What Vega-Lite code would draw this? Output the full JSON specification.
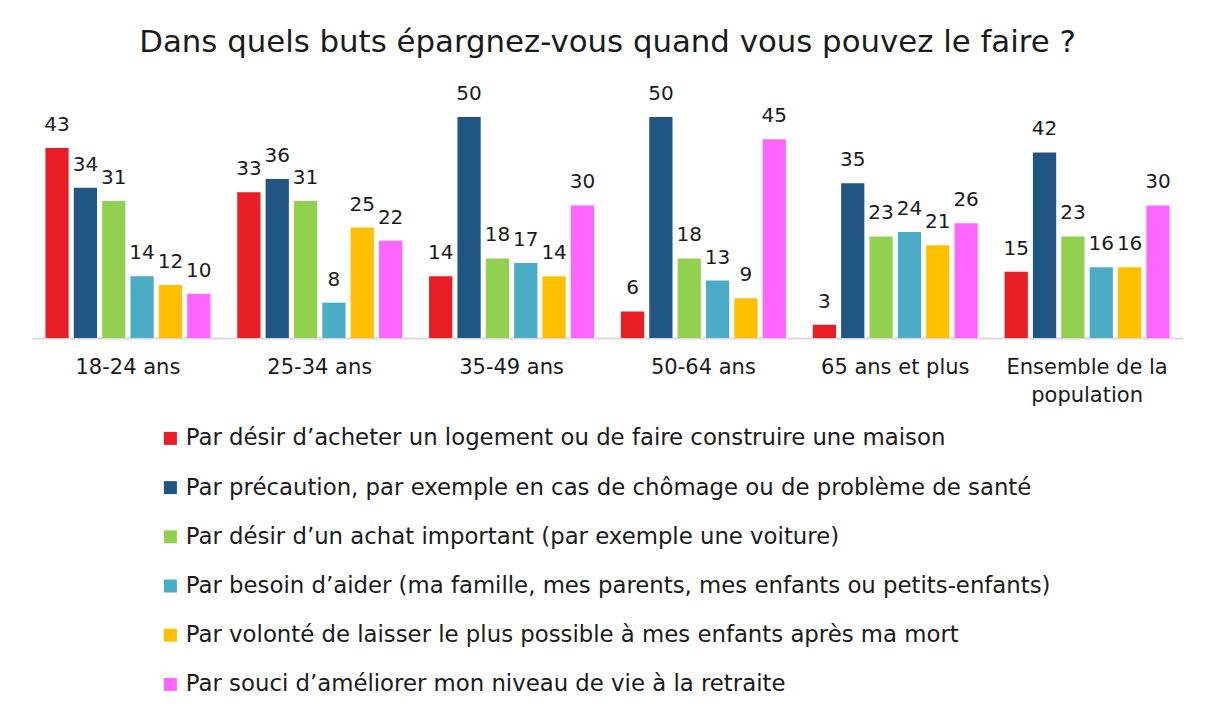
{
  "$schema": "https://vega.github.io/schema/vega-lite/v6.json",
  "width": 1151,
  "height": 243,
  "autosize": "none",
  "padding": {"left": 32, "top": 95, "right": 27, "bottom": 384},
  "background": "white",
  "title": {
    "text": "Dans quels buts épargnez-vous quand vous pouvez le faire ?",
    "font": "DejaVu Sans",
    "fontSize": 30.8,
    "fontWeight": "normal",
    "color": "#1a1a1a",
    "anchor": "middle",
    "frame": "group",
    "offset": 25
  },
  "config": {
    "view": {"stroke": null},
    "font": "DejaVu Sans"
  },
  "data": {
    "values": [
      {"age": "18-24 ans", "but": "Par désir d’acheter un logement ou de faire construire une maison", "v": 43},
      {"age": "18-24 ans", "but": "Par précaution, par exemple en cas de chômage ou de problème de santé", "v": 34},
      {"age": "18-24 ans", "but": "Par désir d’un achat important (par exemple une voiture)", "v": 31},
      {"age": "18-24 ans", "but": "Par besoin d’aider (ma famille, mes parents, mes enfants ou petits-enfants)", "v": 14},
      {"age": "18-24 ans", "but": "Par volonté de laisser le plus possible à mes enfants après ma mort", "v": 12},
      {"age": "18-24 ans", "but": "Par souci d’améliorer mon niveau de vie à la retraite", "v": 10},
      {"age": "25-34 ans", "but": "Par désir d’acheter un logement ou de faire construire une maison", "v": 33},
      {"age": "25-34 ans", "but": "Par précaution, par exemple en cas de chômage ou de problème de santé", "v": 36},
      {"age": "25-34 ans", "but": "Par désir d’un achat important (par exemple une voiture)", "v": 31},
      {"age": "25-34 ans", "but": "Par besoin d’aider (ma famille, mes parents, mes enfants ou petits-enfants)", "v": 8},
      {"age": "25-34 ans", "but": "Par volonté de laisser le plus possible à mes enfants après ma mort", "v": 25},
      {"age": "25-34 ans", "but": "Par souci d’améliorer mon niveau de vie à la retraite", "v": 22},
      {"age": "35-49 ans", "but": "Par désir d’acheter un logement ou de faire construire une maison", "v": 14},
      {"age": "35-49 ans", "but": "Par précaution, par exemple en cas de chômage ou de problème de santé", "v": 50},
      {"age": "35-49 ans", "but": "Par désir d’un achat important (par exemple une voiture)", "v": 18},
      {"age": "35-49 ans", "but": "Par besoin d’aider (ma famille, mes parents, mes enfants ou petits-enfants)", "v": 17},
      {"age": "35-49 ans", "but": "Par volonté de laisser le plus possible à mes enfants après ma mort", "v": 14},
      {"age": "35-49 ans", "but": "Par souci d’améliorer mon niveau de vie à la retraite", "v": 30},
      {"age": "50-64 ans", "but": "Par désir d’acheter un logement ou de faire construire une maison", "v": 6},
      {"age": "50-64 ans", "but": "Par précaution, par exemple en cas de chômage ou de problème de santé", "v": 50},
      {"age": "50-64 ans", "but": "Par désir d’un achat important (par exemple une voiture)", "v": 18},
      {"age": "50-64 ans", "but": "Par besoin d’aider (ma famille, mes parents, mes enfants ou petits-enfants)", "v": 13},
      {"age": "50-64 ans", "but": "Par volonté de laisser le plus possible à mes enfants après ma mort", "v": 9},
      {"age": "50-64 ans", "but": "Par souci d’améliorer mon niveau de vie à la retraite", "v": 45},
      {"age": "65 ans et plus", "but": "Par désir d’acheter un logement ou de faire construire une maison", "v": 3},
      {"age": "65 ans et plus", "but": "Par précaution, par exemple en cas de chômage ou de problème de santé", "v": 35},
      {"age": "65 ans et plus", "but": "Par désir d’un achat important (par exemple une voiture)", "v": 23},
      {"age": "65 ans et plus", "but": "Par besoin d’aider (ma famille, mes parents, mes enfants ou petits-enfants)", "v": 24},
      {"age": "65 ans et plus", "but": "Par volonté de laisser le plus possible à mes enfants après ma mort", "v": 21},
      {"age": "65 ans et plus", "but": "Par souci d’améliorer mon niveau de vie à la retraite", "v": 26},
      {"age": "Ensemble de la population", "but": "Par désir d’acheter un logement ou de faire construire une maison", "v": 15},
      {"age": "Ensemble de la population", "but": "Par précaution, par exemple en cas de chômage ou de problème de santé", "v": 42},
      {"age": "Ensemble de la population", "but": "Par désir d’un achat important (par exemple une voiture)", "v": 23},
      {"age": "Ensemble de la population", "but": "Par besoin d’aider (ma famille, mes parents, mes enfants ou petits-enfants)", "v": 16},
      {"age": "Ensemble de la population", "but": "Par volonté de laisser le plus possible à mes enfants après ma mort", "v": 16},
      {"age": "Ensemble de la population", "but": "Par souci d’améliorer mon niveau de vie à la retraite", "v": 30}
    ]
  },
  "encoding": {
    "x": {
      "field": "age",
      "type": "nominal",
      "sort": null,
      "scale": {"paddingInner": 0.14, "paddingOuter": 0.07},
      "axis": {
        "title": null,
        "labelAngle": 0,
        "labelFont": "DejaVu Sans",
        "labelFontSize": 21,
        "labelColor": "#1a1a1a",
        "labelPadding": 18,
        "labelLineHeight": 28,
        "labelLimit": 300,
        "ticks": false,
        "domainColor": "#d9d9d9",
        "domainWidth": 2,
        "labelExpr": "datum.label == 'Ensemble de la population' ? ['Ensemble de la', 'population'] : datum.label"
      }
    },
    "xOffset": {
      "field": "but",
      "type": "nominal",
      "sort": null,
      "scale": {"paddingInner": 0.18}
    },
    "y": {
      "field": "v",
      "type": "quantitative",
      "scale": {"domain": [0, 55], "nice": false},
      "axis": null
    }
  },
  "layer": [
    {
      "mark": {"type": "bar"},
      "encoding": {
        "color": {
          "field": "but",
          "type": "nominal",
          "sort": null,
          "scale": {
            "domain": [
              "Par désir d’acheter un logement ou de faire construire une maison",
              "Par précaution, par exemple en cas de chômage ou de problème de santé",
              "Par désir d’un achat important (par exemple une voiture)",
              "Par besoin d’aider (ma famille, mes parents, mes enfants ou petits-enfants)",
              "Par volonté de laisser le plus possible à mes enfants après ma mort",
              "Par souci d’améliorer mon niveau de vie à la retraite"
            ],
            "range": ["#E81D25", "#215583", "#92D050", "#4BACC6", "#FFC000", "#FF66FF"]
          },
          "legend": {
            "title": null,
            "orient": "none",
            "legendX": 127,
            "legendY": 332,
            "direction": "vertical",
            "symbolType": "square",
            "symbolSize": 169,
            "symbolStrokeWidth": 0,
            "labelFont": "DejaVu Sans",
            "labelFontSize": 22.8,
            "labelColor": "#1a1a1a",
            "labelLimit": 1000,
            "labelOffset": 4,
            "rowPadding": 25.2
          }
        }
      }
    },
    {
      "mark": {"type": "text", "baseline": "alphabetic", "dy": -17, "font": "DejaVu Sans", "fontSize": 20, "color": "#1a1a1a"},
      "encoding": {
        "text": {"field": "v", "type": "quantitative"}
      }
    }
  ]
}
